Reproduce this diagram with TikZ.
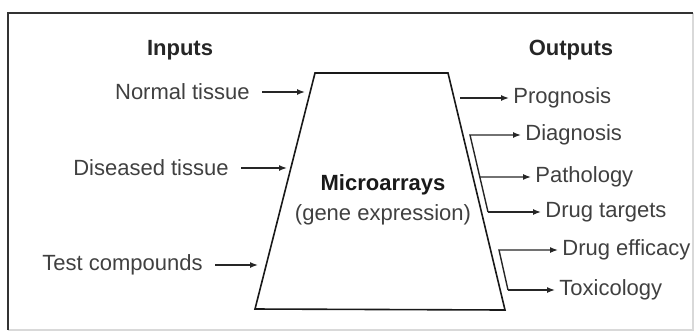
\documentclass[tikz,border=0pt]{standalone}
\usepackage{fontspec}
\setmainfont{Liberation Sans}
\usetikzlibrary{arrows.meta, calc}

\begin{document}
\begin{tikzpicture}[
  x=0.5pt, y=-0.5pt,
  txt/.style={font=\fontsize{11}{13}\selectfont, text=black!75, inner sep=0pt},
  head/.style={txt, font=\fontsize{11}{13}\selectfont\bfseries, text=black!85},
  input/.style={txt, anchor=east, inner xsep=6pt},
  output/.style={txt, anchor=west, inner xsep=2pt},
  arrow/.style={-{Latex[length=4pt, width=3pt]}, line width=0.7pt, black!85},
  funnel/.style={draw, line width=0.8pt, black!90}
]
\useasboundingbox (0,0) rectangle (699,333);

\draw[black!15, line width=0.6pt] (693,13) -- (693,330) -- (8,330);
\draw[black!80, line width=1pt] (8,330) -- (8,13) -- (693,13);

\coordinate (tl) at (315,73);
\coordinate (tr) at (448,73);
\coordinate (br) at (505,310);
\coordinate (bl) at (255,309);
\draw[funnel] (tl) -- (tr) -- (br) -- (bl) -- cycle;

\node[txt, align=center] (core) at (383,200)
  {\textbf{\color{black!90}Microarrays}\\[2pt](gene expression)};

\node[head] (inputs)  at (180,50) {Inputs};
\node[head] (outputs) at (571,50) {Outputs};

\node[input] (normal)  at (262,92)  {Normal tissue};
\node[input] (disease) at (241,168) {Diseased tissue};
\node[input] (test)    at (215,265) {Test compounds};

\coordinate (normal-in)  at (305,92);
\coordinate (disease-in) at (287,168);
\coordinate (test-in)    at (258,265);

\draw[arrow] (normal)  -- (normal-in);
\draw[arrow] (disease) -- (disease-in);
\draw[arrow] (test)    -- (test-in);

\node[output] (progn) at (509,98)  {Prognosis};
\node[output] (diag)  at (521,135) {Diagnosis};
\node[output] (patho) at (531,177) {Pathology};
\node[output] (targ)  at (541,212) {Drug targets};
\node[output] (effic) at (558,250) {Drug efficacy};
\node[output] (toxic) at (555,290) {Toxicology};

\coordinate (progn-c) at (460,98);
\coordinate (diag-c)  at (470,135);
\coordinate (targ-c)  at (488,212);
\coordinate (patho-c) at ($(diag-c)!0.545!(targ-c)$);
\coordinate (effic-c) at (499,250);
\coordinate (toxic-c) at (508,290);

\draw[arrow] (progn-c) -- (progn);
\draw[arrow] (targ-c)  -- (diag-c) -- (diag);
\draw[arrow] (patho-c) -- (patho);
\draw[arrow] (targ-c)  -- (targ);
\draw[arrow] (toxic-c) -- (effic-c) -- (effic);
\draw[arrow] (toxic-c) -- (toxic);
\end{tikzpicture}
\end{document}
